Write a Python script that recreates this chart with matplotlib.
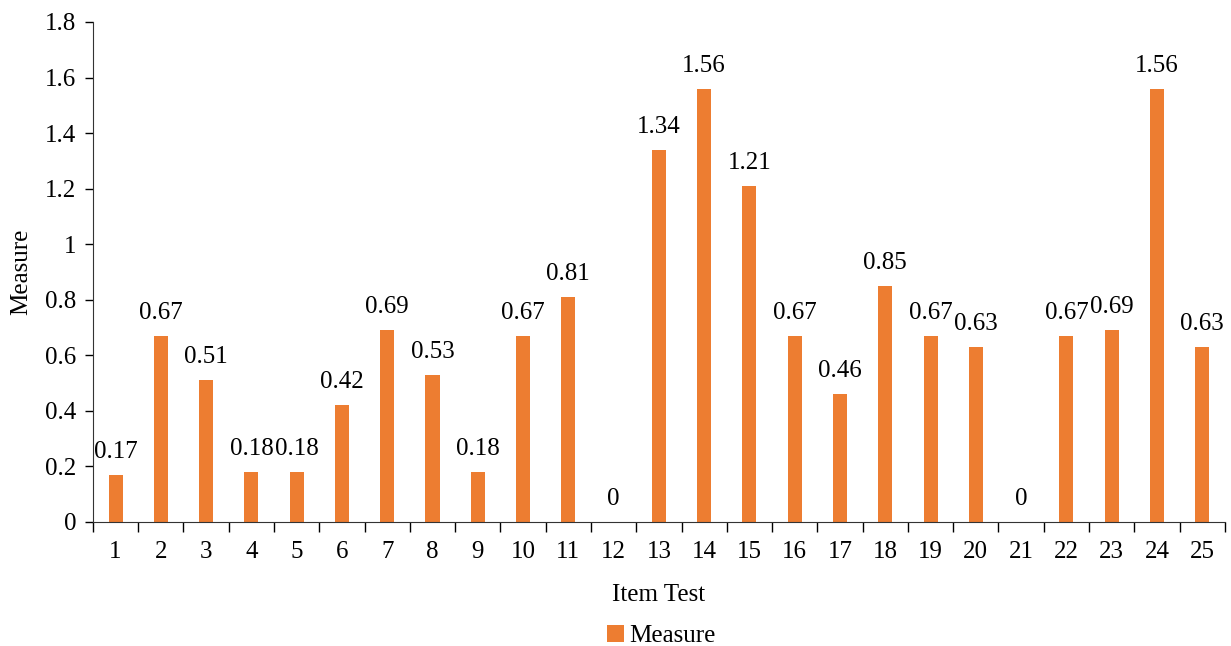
import numpy as np
import matplotlib.pyplot as plt

items = [str(i) for i in range(1, 26)]
measure = [0.17, 0.67, 0.51, 0.18, 0.18, 0.42, 0.69, 0.53, 0.18, 0.67,
           0.81, 0, 1.34, 1.56, 1.21, 0.67, 0.46, 0.85, 0.67, 0.63,
           0, 0.67, 0.69, 1.56, 0.63]
y_ticks = [0, 0.2, 0.4, 0.6, 0.8, 1, 1.2, 1.4, 1.6, 1.8]

plt.rcParams['font.family'] = ['Liberation Serif', 'DejaVu Serif']
plt.rcParams['font.size'] = 18

fig = plt.figure(figsize=(12.31, 6.46), dpi=100)
ax = fig.add_axes([0.0755, 0.192, 0.9195, 0.774])

x = np.arange(len(items))
bars = ax.bar(x, measure, width=0.31, color='#ED7D31', label='Measure')

# etiquetas de valor acima das barras
for xi, v in zip(x, measure):
    ax.annotate(f'{v:g}', (xi, v), xytext=(0, 16.5), textcoords='offset points',
                ha='center', va='center', fontsize=18)

ax.set_xlim(-0.5, len(items) - 0.5)
ax.set_ylim(0, 1.8)
ax.set_yticks(y_ticks)
ax.set_yticklabels([f'{t:g}' for t in y_ticks])

# marcas do eixo x entre as categorias, rótulos no centro
ax.set_xticks(np.arange(-0.5, len(items), 1))
ax.set_xticklabels([])
ax.set_xticks(x, minor=True)
ax.set_xticklabels(items, minor=True)
ax.tick_params(axis='x', which='major', length=7, width=1, direction='out')
ax.tick_params(axis='x', which='minor', length=0, pad=14)
ax.tick_params(axis='y', length=6, width=1, direction='out', pad=6)

for s in ['top', 'right']:
    ax.spines[s].set_visible(False)
ax.spines['left'].set_color('#333333')
ax.spines['bottom'].set_color('#333333')

ax.set_xlabel('Item Test', labelpad=15)
ax.set_ylabel('Measure', labelpad=9)

fig.legend(handles=[bars], labels=['Measure'], loc='lower center',
           bbox_to_anchor=(0.537, -0.037), frameon=False,
           handlelength=0.7, handleheight=0.7, handletextpad=0.2)

fig.savefig('out.png', dpi=100)
